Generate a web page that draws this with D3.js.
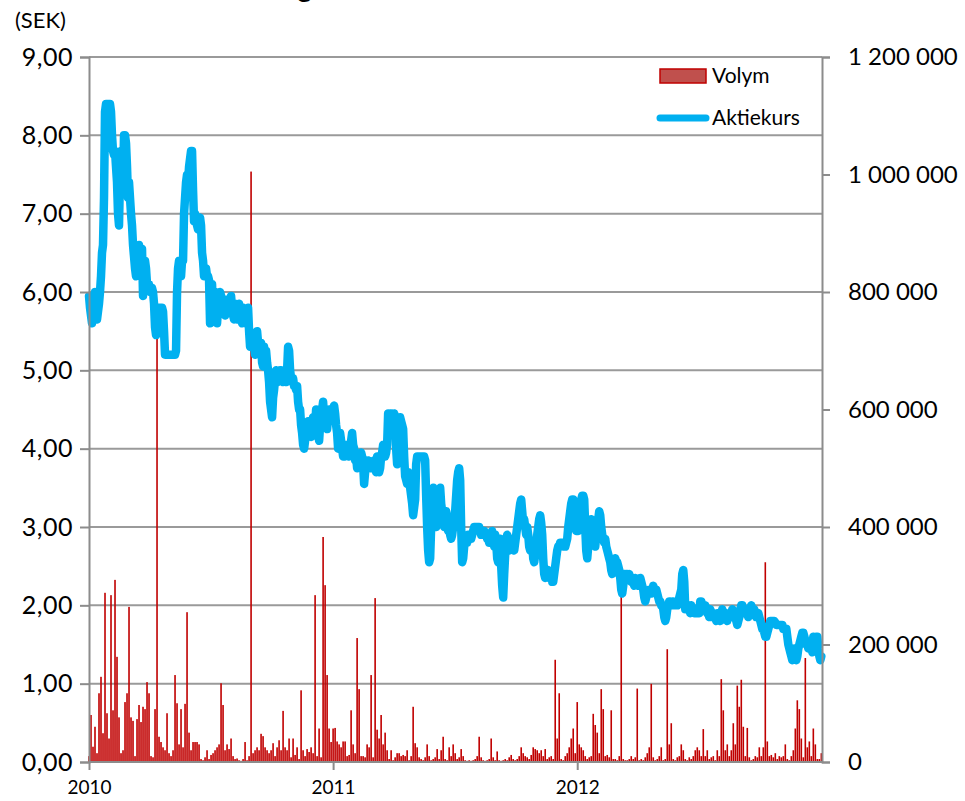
<!DOCTYPE html>
<html>
<head>
<meta charset="utf-8">
<script src="https://cdn.jsdelivr.net/npm/d3@7"></script>
<style>
  body { margin: 0; background: #fff; }
  svg { display: block; font-family: Lato, "Open Sans", sans-serif; }
</style>
</head>
<body>
<svg width="965" height="801"></svg>
<script>
// Aktiekurs (SEK), avläst ungefär en gång per handelsdag, 2010-01 -- 2012-12
var kursSEK = [
  5.95,5.8,5.7,5.6,5.9,5.95,6.0,5.75,5.65,5.75,
  5.85,6.0,6.2,6.5,6.6,7.2,8.3,8.4,8.4,8.4,
  8.4,8.4,8.3,8.0,7.8,7.75,7.8,7.6,7.4,7.0,
  6.85,7.5,7.8,7.7,7.4,8.0,8.0,7.9,7.6,7.2,
  7.4,7.2,7.0,6.85,6.6,6.45,6.3,6.2,6.45,6.4,
  6.6,6.5,6.3,6.55,5.95,6.3,6.4,6.3,6.1,6.05,
  6.1,6.0,6.05,6.05,6.0,5.85,5.55,5.45,5.6,5.8,
  5.8,5.8,5.8,5.8,5.75,5.5,5.2,5.2,5.2,5.2,
  5.2,5.2,5.2,5.2,5.2,5.2,5.2,5.25,6.0,6.3,
  6.4,6.35,6.2,6.4,6.4,7.0,7.2,7.4,7.5,7.4,
  7.6,7.7,7.8,7.8,7.3,6.9,7.0,6.9,6.85,6.8,
  6.9,6.95,6.85,6.5,6.4,6.2,6.3,6.3,6.2,6.2,
  6.15,5.6,6.05,6.1,5.7,5.85,6.0,5.9,5.6,5.8,
  5.95,6.0,5.95,5.85,5.85,5.8,5.7,5.9,5.9,5.9,
  5.75,5.8,5.95,5.8,5.7,5.65,5.85,5.8,5.65,5.75,
  5.85,5.75,5.7,5.6,5.8,5.75,5.7,5.6,5.65,5.8,
  5.5,5.3,5.45,5.35,5.35,5.3,5.2,5.45,5.5,5.35,
  5.3,5.2,5.35,5.1,5.05,5.3,5.15,5.25,5.1,5.0,
  4.85,4.6,4.5,4.4,4.65,4.75,4.9,5.0,4.95,4.85,
  4.9,5.0,5.0,4.95,4.85,4.9,4.9,4.85,5.0,5.3,
  5.25,5.0,4.9,4.85,4.9,4.8,4.8,4.75,4.8,4.6,
  4.5,4.5,4.3,4.2,4.05,4.0,4.1,4.3,4.2,4.35,
  4.3,4.2,4.15,4.25,4.4,4.35,4.25,4.5,4.4,4.2,
  4.1,4.3,4.45,4.5,4.6,4.4,4.3,4.35,4.25,4.4,
  4.5,4.4,4.5,4.45,4.5,4.55,4.45,4.3,4.2,4.0,
  4.05,4.2,4.1,4.0,3.9,3.95,3.9,4.0,4.05,3.95,
  3.9,4.0,4.1,4.2,4.05,4.0,3.85,3.9,3.75,3.8,
  3.9,3.85,3.95,3.9,3.8,3.55,3.7,3.85,3.8,3.85,
  3.8,3.8,3.75,3.8,3.75,3.85,3.8,3.7,3.9,3.85,
  3.7,3.75,3.9,3.95,4.05,4.0,3.9,3.95,4.05,4.45,
  4.4,4.45,4.45,4.3,4.4,4.45,4.4,4.0,3.8,4.0,
  4.1,4.4,4.35,4.3,4.25,3.9,3.65,3.6,3.55,3.7,
  3.6,3.5,3.4,3.3,3.15,3.25,3.35,3.8,3.9,3.9,
  3.9,3.9,3.9,3.9,3.9,3.9,3.85,3.4,3.0,2.7,
  2.55,2.6,3.0,3.3,3.5,3.3,3.1,3.0,3.2,3.4,
  3.3,3.5,3.3,3.2,3.1,3.0,3.05,3.2,3.1,2.95,
  3.0,2.9,2.85,2.9,3.0,3.1,3.2,3.4,3.6,3.7,
  3.75,3.6,3.0,2.55,2.6,2.75,2.8,2.85,2.8,2.9,
  2.9,2.85,2.85,2.9,2.95,3.0,3.0,3.0,3.0,3.0,
  3.0,2.95,2.9,2.9,2.95,2.95,2.9,2.9,2.85,2.85,
  2.8,2.8,2.9,2.95,2.85,2.75,2.9,2.8,2.6,2.55,
  2.75,2.85,2.5,2.25,2.1,2.4,2.65,2.8,2.9,2.85,
  2.7,2.8,2.75,2.85,2.75,2.7,2.8,2.9,3.0,3.1,
  3.2,3.3,3.35,3.2,3.05,3.1,3.0,2.9,3.0,2.9,
  2.75,2.7,2.75,2.8,2.6,2.55,2.65,2.8,2.9,3.0,
  3.1,3.15,3.05,2.9,2.6,2.4,2.35,2.45,2.4,2.45,
  2.35,2.4,2.35,2.3,2.3,2.4,2.5,2.6,2.7,2.75,
  2.75,2.8,2.8,2.8,2.8,2.75,2.75,2.8,2.85,3.0,
  3.1,3.2,3.3,3.35,3.35,3.2,3.0,2.95,3.0,2.95,
  3.1,3.2,3.35,3.4,3.4,3.35,3.0,2.7,2.6,2.75,
  2.9,3.0,3.1,3.0,2.95,2.8,2.75,2.9,3.05,3.1,
  3.2,3.15,3.0,2.9,2.85,2.8,2.85,2.75,2.7,2.65,
  2.6,2.55,2.45,2.4,2.45,2.5,2.6,2.55,2.55,2.5,
  2.45,2.35,2.2,2.15,2.25,2.4,2.35,2.4,2.4,2.35,
  2.4,2.35,2.3,2.35,2.3,2.25,2.35,2.3,2.3,2.25,
  2.3,2.35,2.3,2.25,2.2,2.1,2.05,2.1,2.15,2.15,
  2.2,2.2,2.15,2.2,2.25,2.2,2.2,2.2,2.15,2.1,
  2.05,2.05,2.0,2.0,1.95,1.85,1.8,1.85,1.95,2.0,
  2.05,2.05,2.0,2.05,2.0,2.0,2.05,2.0,2.0,2.05,
  2.1,2.15,2.2,2.4,2.45,2.3,1.95,1.95,2.0,2.0,
  1.95,1.9,2.0,1.95,1.95,1.9,1.95,1.9,1.9,1.95,
  1.9,2.05,2.05,2.0,2.0,1.95,2.0,1.95,1.9,1.9,
  1.85,1.95,1.9,1.85,1.9,1.85,1.85,1.8,1.9,1.85,
  1.85,1.8,1.9,1.95,1.9,1.85,1.9,1.85,1.8,1.9,
  1.85,1.9,1.85,1.95,1.85,1.9,1.85,1.8,1.75,1.8,
  1.85,1.95,2.0,2.0,1.95,1.9,1.9,1.95,1.9,1.85,
  1.9,1.95,2.0,1.95,1.9,1.95,1.9,1.85,1.85,1.9,
  1.85,1.8,1.75,1.7,1.7,1.65,1.6,1.6,1.65,1.7,
  1.75,1.8,1.8,1.8,1.8,1.8,1.78,1.75,1.75,1.75,
  1.75,1.75,1.75,1.75,1.7,1.7,1.7,1.7,1.6,1.5,
  1.45,1.4,1.35,1.3,1.35,1.45,1.35,1.3,1.35,1.45,
  1.5,1.55,1.6,1.65,1.65,1.6,1.55,1.5,1.5,1.45,
  1.5,1.45,1.5,1.4,1.6,1.55,1.5,1.6,1.6,1.45,
  1.35,1.3,1.35
];

// Volym (tusental aktier), avläst ungefär varannan handelsdag
var volymTusental = [
  10,80,26,60,15,117,145,49,288,83,
  40,284,88,310,179,76,15,20,102,117,
  264,76,70,10,73,97,68,94,90,136,
  117,10,8,90,720,43,34,25,20,83,
  15,10,20,148,100,30,90,25,99,255,
  50,20,34,34,34,30,5,3,8,20,
  5,12,15,20,25,30,134,97,20,30,
  22,40,10,5,6,3,2,5,34,3,
  10,1005,15,20,25,20,48,44,25,20,
  15,20,32,10,25,37,20,87,25,20,
  40,8,40,12,25,5,122,20,10,22,
  17,25,15,284,10,57,8,383,301,148,
  57,34,57,58,35,30,25,35,35,10,
  12,88,30,15,211,124,10,10,8,30,
  25,148,8,279,55,40,80,30,50,20,
  5,20,3,8,15,15,10,12,10,20,
  3,10,94,32,25,8,5,3,8,30,
  10,3,5,8,22,5,20,43,5,3,
  25,10,30,15,5,8,22,10,3,2,
  3,2,3,5,10,43,8,3,2,3,
  5,40,8,3,18,3,2,3,5,3,
  8,12,5,3,5,10,25,15,10,8,
  5,12,25,22,20,15,20,10,22,5,
  8,10,5,174,40,117,5,3,10,15,
  25,40,57,15,102,30,25,20,10,5,
  8,10,82,63,50,15,124,90,10,12,
  8,88,5,5,3,10,285,5,3,3,
  5,10,5,8,125,3,5,3,8,15,
  25,133,8,3,5,10,25,3,5,192,
  30,66,5,3,8,10,30,20,5,3,
  8,5,10,20,25,20,10,56,10,20,
  5,8,10,3,20,10,141,88,20,30,
  10,20,66,30,130,94,140,60,10,58,
  8,3,5,10,8,25,10,25,340,35,
  10,12,8,15,5,10,8,10,30,5,
  3,10,20,57,105,90,40,8,177,25,
  35,10,57,30,5,5,15
];

var aaretsTick = [new Date(2010,0,1), new Date(2011,0,1), new Date(2012,0,1)];
var vansterTicks = [0,1,2,3,4,5,6,7,8,9];
var hogerTicks = [0,200,400,600,800,1000,1200];
var serieNamn = ["Volym","Aktiekurs"];

var svg = d3.select("svg");
var m = {left:89, right:822, top:57, bottom:762};

var start = new Date(2010,0,1), slut = new Date(2012,11,31);

var sv = d3.formatLocale({decimal:",", thousands:" ", grouping:[3], currency:["","kr"]});
var fmtKurs = sv.format(",.2f");
var fmtVol = sv.format(",d");

var x = d3.scaleTime().domain([new Date(2010,0,1), new Date(2013,0,1)]).range([m.left, m.right]);
var yKurs = d3.scaleLinear().domain([0,9]).range([m.bottom, m.top]);
var yVol = d3.scaleLinear().domain([0,1200]).range([m.bottom, m.top]);

// datum jämnt fördelade över perioden
var tidKurs = d3.scaleLinear().domain([0, kursSEK.length-1]).range([start.getTime(), slut.getTime()]);
var tidVol = d3.scaleLinear().domain([0, volymTusental.length-1]).range([start.getTime(), slut.getTime()]);
var kursData = kursSEK.map((v,i)=>({date:new Date(tidKurs(i)), v:v}));
var volData = volymTusental.map((v,i)=>({date:new Date(tidVol(i)), v:v}));

// titel (avklippt i originalet)
svg.append("text")
  .attr("x",312).attr("y",-3)
  .attr("text-anchor","end")
  .attr("font-size",28).attr("font-weight","bold")
  .text("Aktiekursutveckling");

//rutnät
svg.append("g").selectAll("line")
  .data(vansterTicks.filter(d=>d>0))
  .enter().append("line")
  .attr("x1",m.left).attr("x2",m.right)
  .attr("y1",d=>yKurs(d)).attr("y2",d=>yKurs(d))
  .attr("stroke","#9a9a9a").attr("stroke-width",2);

//volym staplar
svg.append("g").selectAll("rect")
  .data(volData)
  .enter().append("rect")
  .attr("x",d=>x(d.date)-0.8)
  .attr("width",1.6)
  .attr("y",d=>yVol(d.v))
  .attr("height",d=>m.bottom-yVol(d.v))
  .attr("fill","#c00000");

//kurslinje
var line = d3.line().x(d=>x(d.date)).y(d=>yKurs(d.v));
svg.append("path")
  .datum(kursData)
  .attr("d",line)
  .attr("fill","none")
  .attr("stroke","#00b0f0")
  .attr("stroke-width",8.5)
  .attr("stroke-linejoin","round")
  .attr("stroke-linecap","round");

//axlar
var axisColor = "#8c8c8c";
var gL = svg.append("g").attr("transform",`translate(${m.left},0)`)
  .call(d3.axisLeft(yKurs).tickValues(vansterTicks).tickFormat(fmtKurs).tickSize(9).tickPadding(7));
var gR = svg.append("g").attr("transform",`translate(${m.right},0)`)
  .call(d3.axisRight(yVol).tickValues(hogerTicks).tickFormat(d=>fmtVol(d*1000)).tickSize(8).tickPadding(18));
var gB = svg.append("g").attr("transform",`translate(0,${m.bottom})`)
  .call(d3.axisBottom(x).tickValues(aaretsTick).tickFormat(d3.timeFormat("%Y")).tickSize(8).tickPadding(11));

[gL,gR,gB].forEach(g=>{
  g.select(".domain").attr("stroke",axisColor).attr("stroke-width",2);
  g.selectAll(".tick line").attr("stroke",axisColor).attr("stroke-width",2);
  g.selectAll("text").attr("fill","#000").attr("font-family","Lato, 'Open Sans', sans-serif");
});
gL.selectAll("text").attr("font-size",25).attr("letter-spacing",0.5);
gR.selectAll("text").attr("font-size",24);
gB.selectAll("text").attr("font-size",19);
gB.select(".domain").attr("d",`M${m.left},0H${m.right}`);

svg.append("text")
  .attr("x",15).attr("y",28)
  .attr("font-size",22)
  .text("(SEK)");

//förklaring
var leg = svg.append("g");
leg.append("rect")
  .attr("x",660).attr("y",69).attr("width",46).attr("height",14)
  .attr("fill","#c0504d").attr("stroke","#c00000").attr("stroke-width",1.5);
leg.append("line")
  .attr("x1",660).attr("x2",706).attr("y1",118).attr("y2",118)
  .attr("stroke","#00b0f0").attr("stroke-width",7).attr("stroke-linecap","round");
leg.selectAll(".legText")
  .data(serieNamn)
  .enter().append("text")
  .attr("x",712)
  .attr("y",(d,i)=>83+i*42)
  .attr("font-size",21)
  .text(d=>d);
</script>
</body>
</html>
